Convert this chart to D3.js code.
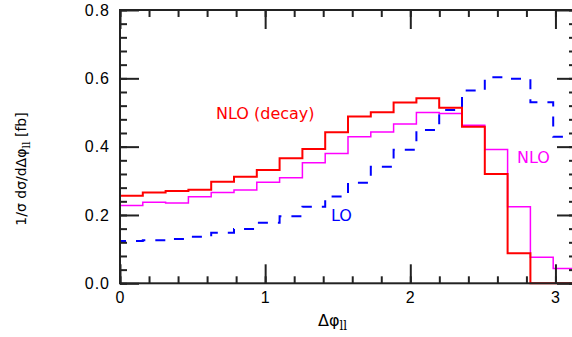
<!DOCTYPE html>
<html>
<head>
<meta charset="utf-8">
<script src="https://cdn.jsdelivr.net/npm/d3@7"></script>
<style>
  body { margin: 0; background: #fff; }
  svg { display: block; font-family: "DejaVu Sans", sans-serif; }
</style>
</head>
<body>
<div id="chart"></div>
<script>
// 20 bins of width pi/20 over [0, pi]
const nBins = 20
const binEdges = d3.range(nBins + 1).map(i => i * Math.PI / nBins)

const nloDecay = [0.256, 0.266, 0.270, 0.274, 0.297, 0.312, 0.332, 0.366, 0.393, 0.442,
                  0.488, 0.501, 0.529, 0.542, 0.514, 0.458, 0.320, 0.088, 0.0, 0.0]
const nlo      = [0.228, 0.237, 0.235, 0.253, 0.266, 0.273, 0.296, 0.309, 0.353, 0.380,
                  0.429, 0.443, 0.466, 0.500, 0.497, 0.463, 0.392, 0.224, 0.076, 0.043]
const lo       = [0.124, 0.126, 0.130, 0.136, 0.148, 0.159, 0.177, 0.196, 0.224, 0.254,
                  0.294, 0.341, 0.391, 0.449, 0.507, 0.564, 0.603, 0.599, 0.530, 0.429]

const xMajor = [0, 1, 2, 3]
const xMinor = d3.range(0, 3.01, 0.2).map(v => +v.toFixed(1))
const yMajor = [0, 0.2, 0.4, 0.6, 0.8]
const yMinor = d3.range(0, 0.801, 0.04).map(v => +v.toFixed(2))

const width = 572, height = 337
const x = d3.scaleLinear().domain([0, Math.PI]).range([120, 576])
const y = d3.scaleLinear().domain([0, 0.8]).range([283.3, 10])

const svg = d3.select('#chart').append('svg')
  .attr('width', width)
  .attr('height', height)

// histogram step lines
const stepLine = d3.line()
  .x(d => x(d[0]))
  .y(d => y(d[1]))
  .curve(d3.curveStepAfter)

const toPoints = vals => vals.map((v, i) => [binEdges[i], v]).concat([[binEdges[nBins], vals[nBins - 1]]])

svg.append('path')
  .attr('d', stepLine(toPoints(lo)))
  .attr('fill', 'none')
  .attr('stroke', '#0000ff')
  .attr('stroke-width', 2)
  .attr('stroke-dasharray', '10,10')
  .attr('stroke-dashoffset', 4)

svg.append('path')
  .attr('d', stepLine(toPoints(nlo)))
  .attr('fill', 'none')
  .attr('stroke', '#ff00ff')
  .attr('stroke-width', 1.5)

svg.append('path')
  .attr('d', stepLine(toPoints(nloDecay)))
  .attr('fill', 'none')
  .attr('stroke', '#ff0000')
  .attr('stroke-width', 2)

// frame
svg.append('rect')
  .attr('x', x(0)).attr('y', y(0.8))
  .attr('width', x(Math.PI) - x(0)).attr('height', y(0) - y(0.8))
  .attr('fill', 'none')
  .attr('stroke', '#222')
  .attr('stroke-width', 2)

// axes, ticks pointing inward
function styleAxis(g) {
  g.select('.domain').remove()
  g.selectAll('.tick line').attr('stroke', '#222').attr('stroke-width', 2)
  g.selectAll('text').attr('fill', '#000').style('font-size', '16px').style('letter-spacing', '1px')
}

svg.append('g').attr('transform', `translate(0,${y(0)})`)
  .call(d3.axisBottom(x).tickValues(xMinor).tickSize(-7).tickFormat(''))
  .call(styleAxis)
svg.append('g').attr('transform', `translate(0,${y(0)})`)
  .call(d3.axisBottom(x).tickValues(xMajor).tickSize(-19).tickPadding(8).tickFormat(d3.format('d')))
  .call(styleAxis)
svg.append('g').attr('transform', `translate(0,${y(0.8)})`)
  .call(d3.axisTop(x).tickValues(xMinor).tickSize(-7).tickFormat(''))
  .call(styleAxis)
svg.append('g').attr('transform', `translate(0,${y(0.8)})`)
  .call(d3.axisTop(x).tickValues(xMajor).tickSize(-19).tickFormat(''))
  .call(styleAxis)

svg.append('g').attr('transform', `translate(${x(0)},0)`)
  .call(d3.axisLeft(y).tickValues(yMinor).tickSize(-7).tickFormat(''))
  .call(styleAxis)
svg.append('g').attr('transform', `translate(${x(0)},0)`)
  .call(d3.axisLeft(y).tickValues(yMajor).tickSize(-19).tickPadding(10).tickFormat(d3.format('.1f')))
  .call(styleAxis)
svg.append('g').attr('transform', `translate(${x(Math.PI)},0)`)
  .call(d3.axisRight(y).tickValues(yMinor).tickSize(-7).tickFormat(''))
  .call(styleAxis)
svg.append('g').attr('transform', `translate(${x(Math.PI)},0)`)
  .call(d3.axisRight(y).tickValues(yMajor).tickSize(-19).tickFormat(''))
  .call(styleAxis)

// axis titles
const xt = svg.append('text')
  .attr('x', 318).attr('y', 326)
  .style('font-size', '16px')
xt.append('tspan').text('Δφ')
xt.append('tspan').attr('dy', 4).style('font-size', '12px')
  .style('font-family', '"DejaVu Serif", serif').text('ll')

const yt = svg.append('text')
  .attr('transform', 'translate(26,169) rotate(-90)')
  .attr('text-anchor', 'middle')
  .style('font-size', '14px')
yt.append('tspan').text('1/σ  dσ/dΔφ')
yt.append('tspan').attr('dy', 4).style('font-size', '11px')
  .style('font-family', '"DejaVu Serif", serif').text('ll')
yt.append('tspan').attr('dy', -4).text('  [fb]')

// series labels
svg.append('text').attr('x', 216).attr('y', 118.5)
  .attr('fill', '#ff0000').style('font-size', '16px').text('NLO (decay)')
svg.append('text').attr('x', 517).attr('y', 163)
  .attr('fill', '#ff00ff').style('font-size', '16px').text('NLO')
svg.append('text').attr('x', 331).attr('y', 221)
  .attr('fill', '#0000ff').style('font-size', '16px').text('LO')
</script>
</body>
</html>
